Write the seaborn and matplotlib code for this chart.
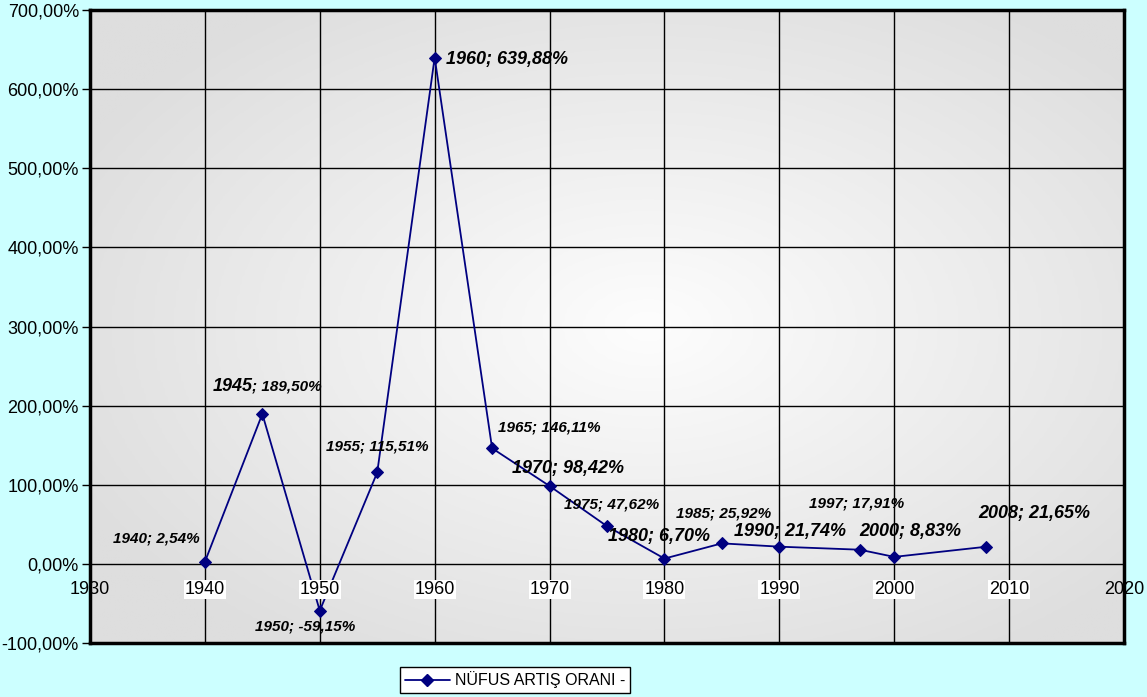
import numpy as np
import pandas as pd
import matplotlib
matplotlib.use("Agg")
import matplotlib.pyplot as plt
from matplotlib.colors import LinearSegmentedColormap
from matplotlib.lines import Line2D
import seaborn as sns

# ---- data ----
years = [1940, 1945, 1950, 1955, 1960, 1965, 1970, 1975, 1980, 1985, 1990, 1997, 2000, 2008]
rates = [2.54, 189.50, -59.15, 115.51, 639.88, 146.11, 98.42, 47.62, 6.70, 25.92, 21.74, 17.91, 8.83, 21.65]
labels = ["1940; 2,54%", "1945; 189,50%", "1950; -59,15%", "1955; 115,51%", "1960; 639,88%",
          "1965; 146,11%", "1970; 98,42%", "1975; 47,62%", "1980; 6,70%", "1985; 25,92%",
          "1990; 21,74%", "1997; 17,91%", "2000; 8,83%", "2008; 21,65%"]
x_ticks = [1930, 1940, 1950, 1960, 1970, 1980, 1990, 2000, 2010, 2020]
y_ticks = [-100, 0, 100, 200, 300, 400, 500, 600, 700]
y_tick_labels = ["-100,00%", "0,00%", "100,00%", "200,00%", "300,00%", "400,00%",
                 "500,00%", "600,00%", "700,00%"]
series_name = "NÜFUS ARTIŞ ORANI -"

df = pd.DataFrame({"year": years, "rate": rates})

sns.set_style("white")
plt.rcParams['font.family'] = ['Liberation Sans', 'DejaVu Sans']
plt.rcParams['text.color'] = 'black'
plt.rcParams['xtick.color'] = 'black'
plt.rcParams['ytick.color'] = 'black'

fig = plt.figure(figsize=(11.47, 6.97), dpi=100)
fig.patch.set_facecolor('#CCFFFF')
ax = fig.add_axes([90/1147, 1-643/697, (1124-90)/1147, (643-10)/697])

# radial gradient background of plot area
gx, gy = np.meshgrid(np.linspace(0, 1, 400), np.linspace(0, 1, 300))
d = np.sqrt(((gx-0.54)/0.62)**2 + ((gy-0.50)/0.62)**2)
d = np.clip(d, 0, 1)
cmap = LinearSegmentedColormap.from_list("g", ["#FDFDFD", "#DEDEDE"])
ax.imshow(d, cmap=cmap, extent=[0, 1, 0, 1], transform=ax.transAxes,
          aspect='auto', origin='lower', zorder=0, interpolation='bilinear')

navy = '#000080'
sns.lineplot(data=df, x="year", y="rate", ax=ax, color=navy, marker='D',
             markersize=6.5, markeredgecolor=navy, linewidth=1.3, zorder=5,
             legend=False)

ax.set_xlim(1930, 2020)
ax.set_ylim(-100, 700)
ax.set_xticks(x_ticks)
ax.set_yticks(y_ticks)
ax.set_yticklabels(y_tick_labels, fontsize=13, color='black')
ax.set_xticklabels([])
ax.tick_params(axis='x', length=0)
ax.tick_params(axis='y', length=6, width=1, color='black', left=True, pad=2)
ax.set_xlabel("")
ax.set_ylabel("")
ax.grid(True, color='black', linewidth=1, zorder=1)
for gl in ax.get_xgridlines() + ax.get_ygridlines():
    gl.set_zorder(1)
for s in ax.spines.values():
    s.set_color('black')
    s.set_linewidth(2.5)
    s.set_zorder(9)

# x tick labels at y = 0
for xt in x_ticks:
    inner = x_ticks[0] < xt < x_ticks[-1]
    ax.annotate(str(xt), xy=(xt, 0), xytext=(0, -26), textcoords='offset pixels',
                ha='center', va='center', fontsize=13, zorder=7, color='black',
                annotation_clip=False,
                bbox=dict(boxstyle='square,pad=0.05', fc='white', ec='none') if inner else None)

# data labels: (dx, dy) center offsets in pixels, large flag
big = [False, None, False, False, True, False, True, False, True, False, True, False, True, True]
offs = [(-49, 23), (0, 0), (-15, -16), (0, 26), (11, -2), (57, 21), (18, 18), (5, 22),
        (-5, 22), (2, 30), (11, 15), (-3, 46), (16, 25), (48, 33)]
small_fs = 11
big_fs = 13
for yr, v, lab, b, (dx, dy) in zip(years, rates, labels, big, offs):
    if b is None:
        head, tail = lab.split(";")
        t1 = ax.annotate(head, xy=(yr, v), xytext=(-50, 27), textcoords='offset pixels',
                         ha='left', va='center', fontsize=big_fs, fontweight='bold',
                         fontstyle='italic', zorder=8, color='black')
        ax.annotate(";" + tail, xy=(1, 0.12), xycoords=t1, ha='left', va='bottom',
                    fontsize=small_fs, fontweight='bold', fontstyle='italic', zorder=8,
                    color='black')
        continue
    if lab.startswith("1960"):
        ax.annotate(lab, xy=(yr, v), xytext=(dx, dy), textcoords='offset pixels',
                    ha='left', va='center', fontsize=big_fs, fontweight='bold',
                    fontstyle='italic', zorder=8, color='black')
        continue
    ax.annotate(lab, xy=(yr, v), xytext=(dx, dy), textcoords='offset pixels',
                ha='center', va='center', fontsize=big_fs if b else small_fs,
                fontweight='bold', fontstyle='italic', zorder=8, color='black')

handle = Line2D([], [], color=navy, marker='D', markersize=6, linewidth=1.3)
leg = fig.legend([handle], [series_name], loc='center', bbox_to_anchor=(515/1147, 1-680/697),
                 frameon=True, fontsize=11.5, fancybox=False, edgecolor='black',
                 framealpha=1, handlelength=2.8, borderpad=0.3, handletextpad=0.3)
leg.get_frame().set_linewidth(1)
for t in leg.get_texts():
    t.set_color('black')

fig.savefig("out.png", dpi=100, facecolor=fig.get_facecolor())
